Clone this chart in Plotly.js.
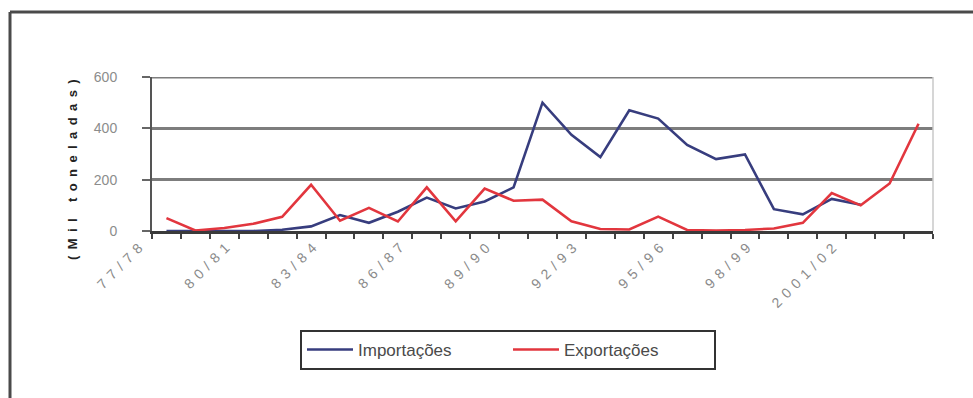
<!DOCTYPE html>
<html>
<head>
<meta charset="utf-8">
<script src="https://cdn.plot.ly/plotly-3.0.1.min.js"></script>
<style>
  html, body { margin: 0; padding: 0; background: #fff; }
  #chart { width: 973px; height: 398px; }
  /* widely spaced lettering on the axis texts */
  .annotation-text { letter-spacing: 5.6px; }
  .annotation[data-index="0"] .annotation-text { letter-spacing: 6.4px; }
</style>
</head>
<body>
<div id="chart"></div>
<script>
// Crop seasons, one category each
const seasons = [
  '77/78', '78/79', '79/80', '80/81', '81/82', '82/83', '83/84', '84/85', '85/86',
  '86/87', '87/88', '88/89', '89/90', '90/91', '91/92', '92/93', '93/94', '94/95',
  '95/96', '96/97', '97/98', '98/99', '99/00', '2000/01', '2001/02', '2002/03', '2003/04'
];

// Seasons that carry a label on the category axis
const labelledSeasons = ['77/78', '80/81', '83/84', '86/87', '89/90', '92/93', '95/96', '98/99', '2001/02'];

// Thousand tonnes
const importacoes = [
  0, 0, 0, 0, 5, 18, 62, 32, 75,
  130, 88, 115, 170, 500, 375, 288, 470, 438,
  335, 280, 298, 85, 65, 125, 102, null, null
];
const exportacoes = [
  50, 2, 12, 28, 55, 180, 40, 90, 37,
  170, 38, 165, 118, 122, 38, 8, 6, 56,
  4, 2, 4, 10, 32, 148, 100, 185, 418
];

const yTicks = [0, 200, 400, 600];

// plot box in page pixels
const W = 973, H = 398;
const L = 152, R = 933, T = 77, B = 231;
const px = x => (x - L) / (R - L);
const py = y => (B - y) / (B - T);

const traces = [
  {
    type: 'scatter', mode: 'lines', name: 'Importações',
    x: seasons, y: importacoes,
    line: { color: '#373d7e', width: 2.6 },
    connectgaps: false
  },
  {
    type: 'scatter', mode: 'lines', name: 'Exportações',
    x: seasons, y: exportacoes,
    line: { color: '#e2363e', width: 2.6 }
  }
];

// slanted season labels, hung from their categories just under the axis
const seasonLabels = labelledSeasons.map(s => ({
  text: s, textangle: -45,
  xref: 'x', x: s, xshift: -14,
  yref: 'paper', y: 0, yshift: -2,
  xanchor: 'right', yanchor: 'top',
  showarrow: false,
  font: { size: 14, color: '#8a8a8a' }
}));

const layout = {
  width: W, height: H,
  margin: { l: L, r: W - R, t: T, b: H - B, pad: 0 },
  paper_bgcolor: '#ffffff',
  plot_bgcolor: '#ffffff',
  showlegend: true,
  font: { family: 'Arial, "Liberation Sans", sans-serif', color: '#555' },
  xaxis: {
    type: 'category',
    categoryorder: 'array', categoryarray: seasons,
    range: [-0.5, seasons.length - 0.5],
    tickmode: 'array',
    tickvals: seasons,
    ticktext: seasons.map(() => ''),
    tickson: 'boundaries',
    ticks: 'outside', ticklen: 5, tickwidth: 2, tickcolor: '#444',
    showline: true, linecolor: '#3a3a3a', linewidth: 2.5,
    showgrid: false, zeroline: false, fixedrange: true
  },
  yaxis: {
    range: [0, 600],
    tickmode: 'array', tickvals: yTicks, ticktext: yTicks.map(String),
    ticks: 'outside', ticklen: 8, tickwidth: 2, tickcolor: '#666',
    ticklabelstandoff: 22,
    tickfont: { size: 14, color: '#8c8c8c' },
    showline: true, linecolor: '#555', linewidth: 2,
    showgrid: true, gridcolor: '#7d7d7d', gridwidth: 3,
    zeroline: false, fixedrange: true
  },
  annotations: [
    {
      text: '(Mil toneladas)', textangle: -90,
      xref: 'paper', yref: 'paper',
      x: px(72), y: py(167), xanchor: 'center', yanchor: 'middle',
      showarrow: false,
      font: { size: 13, color: '#222', weight: 'bold' }
    }
  ].concat(seasonLabels),
  legend: {
    orientation: 'h',
    x: px(300), xanchor: 'left',
    y: py(330), yanchor: 'top',
    bgcolor: '#ffffff',
    bordercolor: '#333', borderwidth: 2,
    font: { size: 17, color: '#4a4a4a' },
    entrywidth: 145, entrywidthmode: 'pixels',
    itemwidth: 46,
    traceorder: 'normal'
  },
  shapes: [
    // top gridline at the upper edge of the plot
    { type: 'line', xref: 'paper', yref: 'y',
      x0: 0, x1: 1, y0: 600, y1: 600, layer: 'below',
      line: { color: '#7d7d7d', width: 3 } },
    // outer frame: top and left edges
    { type: 'line', xref: 'paper', yref: 'paper',
      x0: px(10), x1: px(W + 5), y0: py(12), y1: py(12),
      line: { color: '#4a4a4a', width: 3 } },
    { type: 'line', xref: 'paper', yref: 'paper',
      x0: px(10), x1: px(10), y0: py(12), y1: py(H + 5),
      line: { color: '#4a4a4a', width: 3 } },
    // light right edge of the plot box
    { type: 'line', xref: 'paper', yref: 'paper',
      x0: 1, x1: 1, y0: 0, y1: 1,
      line: { color: '#c8c8c8', width: 1.5 } }
  ]
};

Plotly.newPlot('chart', traces, layout, { displayModeBar: false, staticPlot: true });
</script>
</body>
</html>
